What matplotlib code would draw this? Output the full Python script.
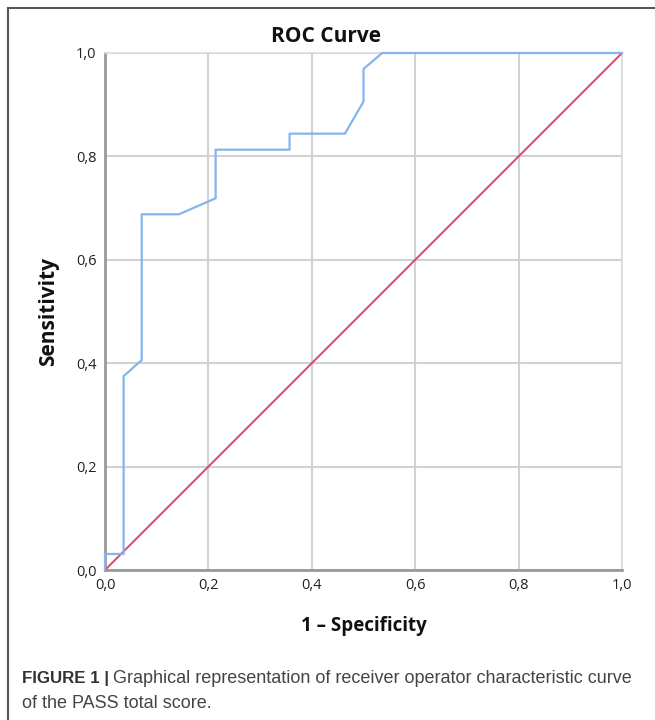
import matplotlib
matplotlib.use('Agg')
import matplotlib.pyplot as plt
from matplotlib.lines import Line2D

# ROC curve points (1 - specificity, sensitivity)
fpr = [0.0, 0.0, 0.036, 0.036, 0.071, 0.071, 0.143, 0.214, 0.214,
       0.357, 0.357, 0.464, 0.500, 0.500, 0.536, 1.0]
tpr = [0.0, 0.031, 0.031, 0.375, 0.406, 0.688, 0.688, 0.719, 0.813,
       0.813, 0.844, 0.844, 0.906, 0.969, 1.0, 1.0]
ref_line = [0.0, 1.0]
ticks = [0.0, 0.2, 0.4, 0.6, 0.8, 1.0]
tick_labels = ['0,0', '0,2', '0,4', '0,6', '0,8', '1,0']

W, H = 655, 720
fig = plt.figure(figsize=(W / 100, H / 100), dpi=100)
ax = fig.add_axes([105 / W, 1 - 570 / H, 517 / W, 517 / H])

ax.grid(True, color='#d2d2d2', linewidth=1.5)
ax.set_axisbelow(True)
ax.plot(ref_line, ref_line, color='#e5406a', linewidth=1.4, zorder=3,
        clip_on=False)
ax.plot(fpr, tpr, color='#84b5ee', linewidth=1.6, zorder=4, clip_on=False)

ax.set_xlim(0, 1)
ax.set_ylim(0, 1)
ax.set_xticks(ticks)
ax.set_xticklabels(tick_labels)
ax.set_yticks(ticks)
ax.set_yticklabels(tick_labels)
ax.tick_params(length=0, labelsize=10.5, colors='#222222', pad=6)
for lab in ax.get_xticklabels() + ax.get_yticklabels():
    lab.set_family('Open Sans')

for s in ['left', 'bottom']:
    ax.spines[s].set_color('#999999')
    ax.spines[s].set_linewidth(2)
for s in ['top', 'right']:
    ax.spines[s].set_color('#dddddd')
    ax.spines[s].set_linewidth(1.2)

fig.text(0.497, 1 - 36 / H, 'ROC Curve', ha='center', va='center',
         fontsize=15, fontweight='bold', family='Open Sans', color='#111111')
ax.set_xlabel('1 – Specificity', fontsize=13.5, fontweight='bold',
              family='Open Sans', labelpad=16, color='#111111')
ax.set_ylabel('Sensitivity', fontsize=15, fontweight='bold',
              family='Open Sans', labelpad=12, color='#111111')

# frame lines (top and left)
fig.add_artist(Line2D([8 / W, 1], [1 - 8 / H, 1 - 8 / H], color='#555555',
                      linewidth=1.5, transform=fig.transFigure))
fig.add_artist(Line2D([8 / W, 8 / W], [1 - 8 / H, 0], color='#555555',
                      linewidth=1.5, transform=fig.transFigure))

# caption
t1 = fig.text(22 / W, 1 - 683 / H, 'FIGURE 1 |', fontsize=12.2,
              fontweight='bold', family='Liberation Sans', color='#333333',
              va='baseline')
fig.canvas.draw()
bb = t1.get_window_extent()
fig.text((bb.x1 + 4) / W, 1 - 683 / H,
         'Graphical representation of receiver operator characteristic curve',
         fontsize=13.0, family='Liberation Sans', color='#444444',
         va='baseline')
fig.text(22 / W, 1 - 708 / H, 'of the PASS total score.', fontsize=13.0,
         family='Liberation Sans', color='#444444', va='baseline')

fig.savefig('out.png', dpi=100)
